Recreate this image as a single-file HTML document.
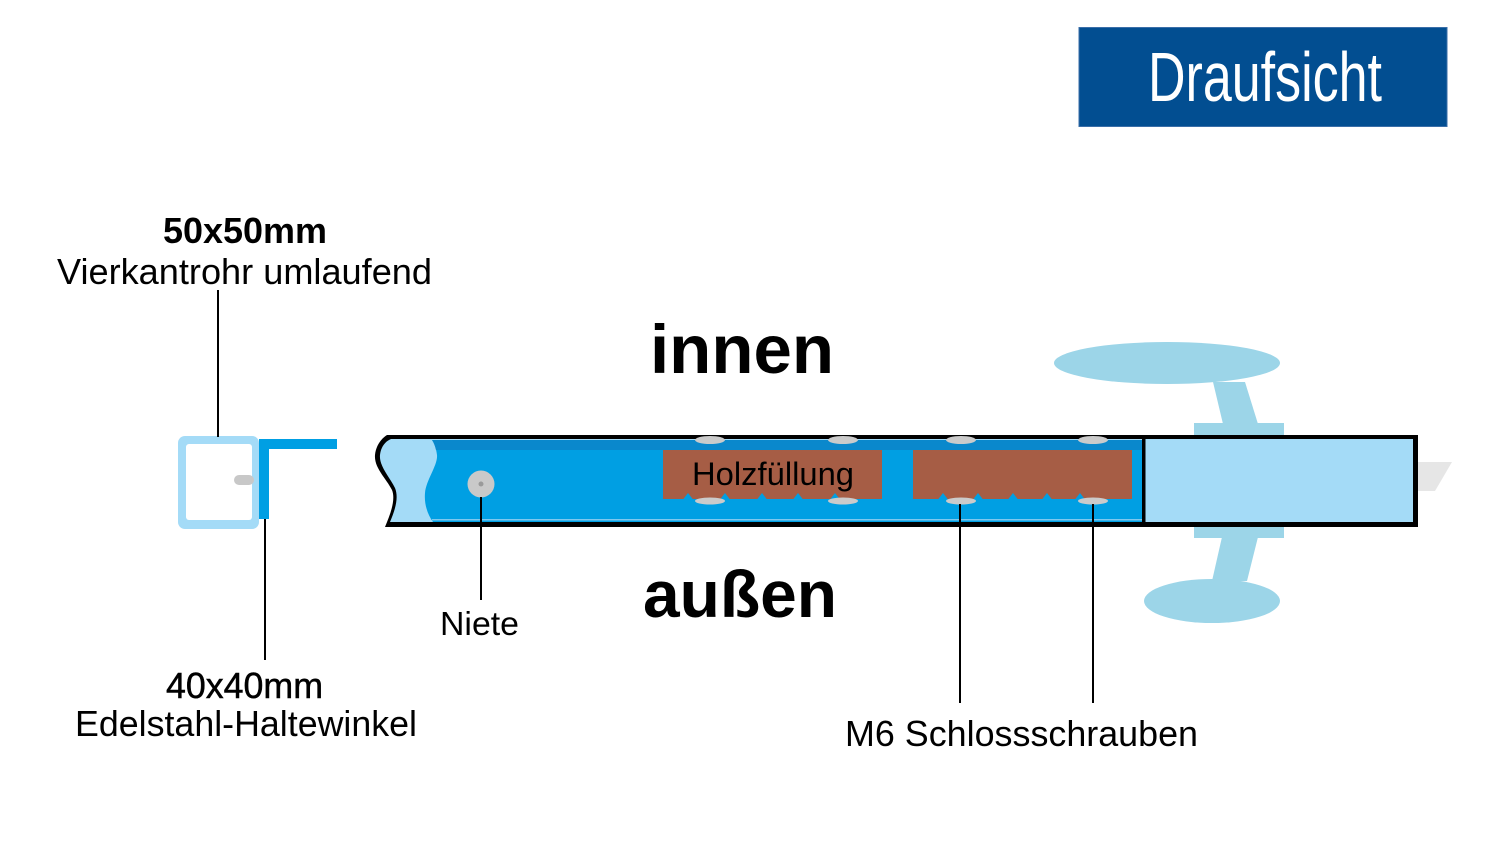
<!DOCTYPE html>
<html>
<head>
<meta charset="utf-8">
<style>
  html, body { margin:0; padding:0; background:#ffffff; }
  svg { display:block; }
  text { font-family: "Liberation Sans", Arial, sans-serif; fill:#000; }
</style>
</head>
<body>
<svg width="1500" height="855" viewBox="0 0 1500 855" xmlns="http://www.w3.org/2000/svg">
  <rect x="0" y="0" width="1500" height="855" fill="#ffffff"/>

  <!-- Title box -->
  <rect x="1079" y="27.5" width="368" height="99" fill="#024e91" stroke="#3a6ea8" stroke-width="1"/>
  <text x="1148" y="101" font-size="70" textLength="234" lengthAdjust="spacingAndGlyphs" style="fill:#ffffff">Draufsicht</text>

  <!-- Left labels -->
  <text x="163" y="243" font-size="36" font-weight="bold" textLength="164" lengthAdjust="spacingAndGlyphs">50x50mm</text>
  <text x="57" y="284" font-size="36" textLength="375" lengthAdjust="spacingAndGlyphs">Vierkantrohr umlaufend</text>
  <text x="166" y="698" font-size="36" textLength="157" lengthAdjust="spacingAndGlyphs" style="stroke:#000;stroke-width:0.5">40x40mm</text>
  <text x="75" y="736" font-size="36" textLength="342" lengthAdjust="spacingAndGlyphs">Edelstahl-Haltewinkel</text>

  <!-- innen / außen -->
  <text x="650" y="373" font-size="69" font-weight="bold" textLength="184" lengthAdjust="spacingAndGlyphs">innen</text>
  <text x="643" y="617" font-size="66" font-weight="bold" textLength="194" lengthAdjust="spacingAndGlyphs">außen</text>

  <!-- Niete / M6 -->
  <text x="440" y="635" font-size="33" textLength="79" lengthAdjust="spacingAndGlyphs">Niete</text>
  <text x="845" y="746" font-size="36" textLength="353" lengthAdjust="spacingAndGlyphs">M6 Schlossschrauben</text>

  <!-- Square tube (left) -->
  <rect x="178" y="436" width="81" height="93" rx="7" fill="#a4dbf7"/>
  <rect x="186" y="444" width="66" height="76" rx="3" fill="#ffffff"/>
  <rect x="234" y="475" width="20" height="10" rx="5" fill="#c8c8c8"/>
  <!-- Angle -->
  <rect x="259" y="439" width="10" height="80" fill="#009fe3"/>
  <rect x="259" y="439" width="78" height="10" fill="#009fe3"/>

  <!-- Handle hardware (behind frame) -->
  <ellipse cx="1167" cy="363" rx="113" ry="21" fill="#9cd5e8"/>
  <polygon points="1213,382 1245,382 1258,424 1223,424" fill="#9cd5e8"/>
  <rect x="1194" y="423" width="90" height="115" fill="#9cd5e8"/>
  <polygon points="1222,537 1258,537 1247,581 1212,581" fill="#9cd5e8"/>
  <ellipse cx="1212" cy="601" rx="68" ry="22" fill="#9cd5e8"/>
  <polygon points="1418,462 1452,462 1435,491 1418,491" fill="#e6e6e6"/>

  <!-- Frame outer black -->
  <path d="M387,435 L1418,435 L1418,527 L385,527 C390,515 396,500 392,490 C386,478 374,468 375,455 C376,445 382,438 387,435 Z" fill="#000"/>
  <!-- light blue inner -->
  <path d="M391,439 L1413,439 L1413,522 L390,522 C395,510 399,498 395,488 C389,476 379,466 380,455 C381,446 386,441 391,439 Z" fill="#a4dbf7"/>
  <!-- blue wood-side -->
  <path d="M432,440 L1143,440 L1143,522 L433,522 C428,515 424,505 425,493 C426,480 438,465 437,455 C436,447 434,443 432,440 Z" fill="#009fe3"/>
  <path d="M432,440 L1143,440 L1143,450 L436,450 C435,446 434,443 432,440 Z" fill="#0a88cc"/>
  <rect x="432" y="519" width="711" height="1.5" fill="#7fc8ee"/>
  <!-- divider -->
  <rect x="1142" y="437" width="3.5" height="89" fill="#000"/>

  <!-- Holzfüllung boxes -->
  <rect x="663" y="450" width="219" height="49" fill="#a65d45"/>
  <rect x="913" y="450" width="219" height="49" fill="#a65d45"/>
  <g fill="#009fe3">
    <polygon points="683,499.5 688,493 693,499.5"/>
    <polygon points="720,499.5 725,493 730,499.5"/>
    <polygon points="757,499.5 762,493 767,499.5"/>
    <polygon points="793,499.5 798,493 803,499.5"/>
    <polygon points="830,499.5 835,493 840,499.5"/>
    <polygon points="938,499.5 943,493 948,499.5"/>
    <polygon points="973,499.5 978,493 983,499.5"/>
    <polygon points="1008,499.5 1013,493 1018,499.5"/>
    <polygon points="1042,499.5 1047,493 1052,499.5"/>
    <polygon points="1075,499.5 1080,493 1085,499.5"/>
  </g>
  <text x="692" y="485" font-size="32" textLength="162" lengthAdjust="spacingAndGlyphs">Holzfüllung</text>

  <!-- Bolt heads -->
  <g fill="#cbcbcb">
    <ellipse cx="710" cy="440" rx="15" ry="4"/>
    <ellipse cx="843" cy="440" rx="15" ry="4"/>
    <ellipse cx="961" cy="440" rx="15" ry="4"/>
    <ellipse cx="1093" cy="440" rx="15" ry="4"/>
    <ellipse cx="710" cy="501" rx="15" ry="3.5"/>
    <ellipse cx="843" cy="501" rx="15" ry="3.5"/>
    <ellipse cx="961" cy="501" rx="15" ry="3.5"/>
    <ellipse cx="1093" cy="501" rx="15" ry="3.5"/>
  </g>

  <!-- Rivet -->
  <circle cx="481" cy="484" r="13.5" fill="#c9c9c9"/>
  <circle cx="481" cy="484" r="2.5" fill="#9a9a9a"/>

  <!-- Leader lines -->
  <g stroke="#000" stroke-width="2">
    <line x1="218" y1="290" x2="218" y2="437"/>
    <line x1="265" y1="519" x2="265" y2="660"/>
    <line x1="481" y1="497" x2="481" y2="600"/>
    <line x1="960" y1="504" x2="960" y2="703"/>
    <line x1="1093" y1="504" x2="1093" y2="703"/>
  </g>
</svg>
</body>
</html>
